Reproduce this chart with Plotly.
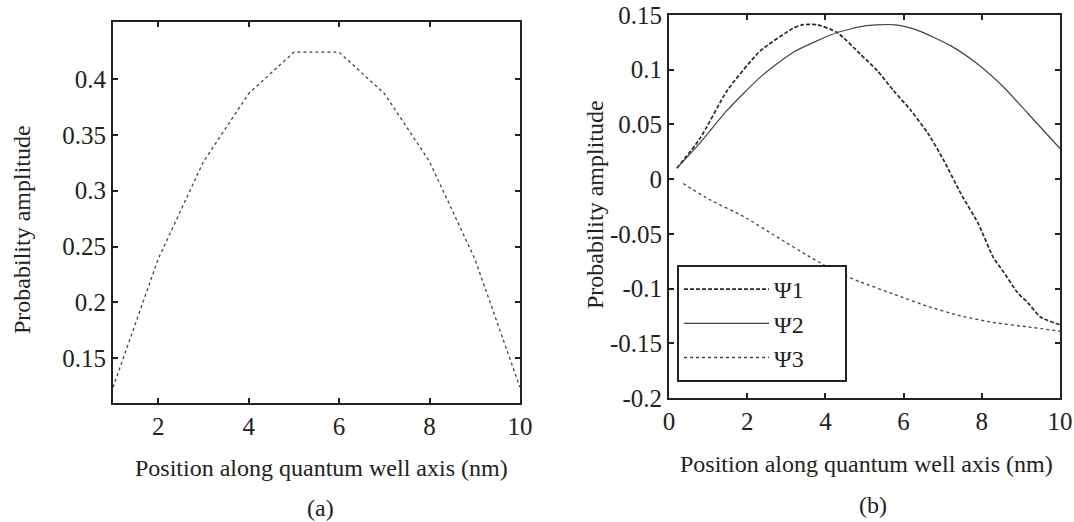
import plotly.graph_objects as go

# Panel (a)
a_x = [1, 2, 3, 4, 5, 6, 7, 8, 9, 10]
a_y = [0.124, 0.239, 0.326, 0.387, 0.424, 0.424, 0.387, 0.326, 0.239, 0.124]

# Panel (b)
psi1_x = [0.2, 0.79, 1.49, 2.33, 3.18, 3.4, 3.8, 4.3, 4.9, 5.33, 5.74, 6.18, 6.62, 7.03, 7.46, 7.9, 8.3, 8.56, 8.92, 9.18, 9.5, 10.0]
psi1_y = [0.010, 0.037, 0.081, 0.117, 0.138, 0.141, 0.141, 0.134, 0.114, 0.099, 0.081, 0.063, 0.042, 0.017, -0.013, -0.040, -0.072, -0.085, -0.104, -0.113, -0.126, -0.133]

psi2_x = [0.2, 0.79, 1.49, 2.33, 3.18, 4.3, 5.0, 5.3, 5.8, 6.36, 7.2, 7.9, 8.56, 9.18, 10.0]
psi2_y = [0.010, 0.033, 0.063, 0.093, 0.116, 0.134, 0.140, 0.141, 0.141, 0.136, 0.122, 0.105, 0.084, 0.060, 0.028]

psi3_x = [0.36, 1.05, 1.9, 2.77, 3.6, 4.3, 4.9, 5.74, 6.6, 7.46, 8.3, 9.18, 10.0]
psi3_y = [-0.004, -0.019, -0.034, -0.053, -0.071, -0.085, -0.094, -0.105, -0.116, -0.125, -0.131, -0.135, -0.139]

a_xticks = [2, 4, 6, 8, 10]
a_yticks = [0.15, 0.2, 0.25, 0.3, 0.35, 0.4]
b_xticks = [0, 2, 4, 6, 8, 10]
b_yticks = [-0.2, -0.15, -0.1, -0.05, 0, 0.05, 0.1, 0.15]
b_ytext = ["-0.2", "-0.15", "-0.1", "-0.05", "0", "0.05", "0.1", "0.15"]
legend_names = ["Ψ1", "Ψ2", "Ψ3"]

FONT = "Liberation Serif, Times New Roman, serif"
INK = "#222222"
W, H = 1074, 522


def fx(px):
    return px / W


def fy(py):
    return 1 - py / H


pad = "\u00a0" * 6
fig = go.Figure()
fig.add_trace(go.Scatter(x=a_x, y=a_y, mode="lines", xaxis="x", yaxis="y",
                         line=dict(color="#444444", width=1.3, dash="dot"), showlegend=False))
fig.add_trace(go.Scatter(x=psi1_x, y=psi1_y, mode="lines", name=legend_names[0] + pad, xaxis="x2", yaxis="y2",
                         line=dict(color="#2a2a2a", width=1.7, dash="4px,2px", shape="spline", smoothing=0.6)))
fig.add_trace(go.Scatter(x=psi2_x, y=psi2_y, mode="lines", name=legend_names[1] + pad, xaxis="x2", yaxis="y2",
                         line=dict(color="#444444", width=1.2, shape="spline", smoothing=0.6)))
fig.add_trace(go.Scatter(x=psi3_x, y=psi3_y, mode="lines", name=legend_names[2] + pad, xaxis="x2", yaxis="y2",
                         line=dict(color="#444444", width=1.3, dash="dot", shape="spline", smoothing=0.6)))

axis_common = dict(showgrid=False, zeroline=False, showline=True, linecolor=INK, linewidth=2,
                   mirror="ticks", ticks="inside", ticklen=5, tickwidth=1.5, tickcolor=INK,
                   automargin=False, ticklabeloverflow="allow",
                   tickfont=dict(family=FONT, size=25, color=INK))


def txt(text, px, py, angle=0, size=24):
    return dict(text=text, x=fx(px), y=fy(py), xref="paper", yref="paper",
                xanchor="center", yanchor="middle", textangle=angle,
                showarrow=False, font=dict(family=FONT, size=size, color=INK))


fig.update_layout(
    width=W, height=H,
    margin=dict(l=0, r=0, t=0, b=0, pad=0),
    paper_bgcolor="white", plot_bgcolor="white",
    font=dict(family=FONT, color=INK),
    xaxis=dict(domain=[fx(113), fx(520)], range=[1, 10], tickvals=a_xticks, anchor="y", **axis_common),
    yaxis=dict(domain=[fy(403), fy(22)], range=[0.11, 0.451], tickvals=a_yticks, anchor="x", **axis_common),
    xaxis2=dict(domain=[fx(669), fx(1060)], range=[0, 10], tickvals=b_xticks, anchor="y2", **axis_common),
    yaxis2=dict(domain=[fy(398), fy(15)], range=[-0.2, 0.15], tickvals=b_yticks, ticktext=b_ytext,
                anchor="x2", **axis_common),
    legend=dict(x=fx(677), y=fy(265), xanchor="left", yanchor="top", bgcolor="white",
                bordercolor=INK, borderwidth=2, font=dict(family=FONT, size=24, color=INK),
                itemwidth=85, tracegroupgap=0),
    annotations=[
        txt("Position along quantum well axis (nm)", 321, 468),
        txt("Position along quantum well axis (nm)", 866, 464),
        txt("(a)", 320, 508),
        txt("(b)", 873, 505),
        txt("Probability amplitude", 22, 230, angle=-90),
        txt("Probability amplitude", 595, 205, angle=-90),
    ],
)

fig.write_html("out.html", config={"displayModeBar": False},
               post_script="document.body.style.margin='0';document.body.style.overflow='hidden';")
